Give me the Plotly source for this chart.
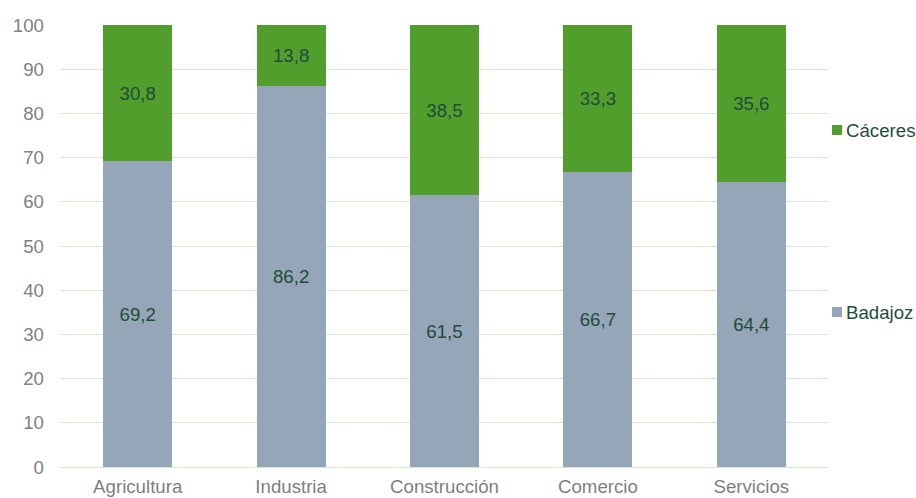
import plotly.graph_objects as go

categories = ["Agricultura", "Industria", "Construcción", "Comercio", "Servicios"]
badajoz = [69.2, 86.2, 61.5, 66.7, 64.4]
caceres = [30.8, 13.8, 38.5, 33.3, 35.6]
y_ticks = [0, 10, 20, 30, 40, 50, 60, 70, 80, 90, 100]

series = [("Badajoz", badajoz, "#94a6b7"), ("Cáceres", caceres, "#519e2c")]

fmt = lambda v: f"{v:.1f}".replace(".", ",")
txt_color = "#1f4d3b"
FONT = "Liberation Sans, Arial"
FS = 18.67

fig = go.Figure()
for name, vals, col in series:
    fig.add_trace(go.Bar(
        x=categories, y=vals, name=name,
        marker=dict(color=col, line=dict(width=0)),
        text=[fmt(v) for v in vals], textposition="inside", insidetextanchor="middle",
        textfont=dict(color=txt_color, size=FS, family=FONT),
        showlegend=False,
    ))

W, H = 916, 498
ml, mr, mt, mb = 61, 88, 25, 31
pw = W - ml - mr
ph = H - mt - mb
# legend drawn manually (pixel positions within the figure)
legend_items = [("Cáceres", "#519e2c", 130), ("Badajoz", "#94a6b7", 312)]
shapes = []
annotations = []
px2x = lambda p: (p - ml) / pw
for name, col, ypix in legend_items:
    yc = 1 - (ypix - mt) / ph
    dy = 5 / ph
    shapes.append(dict(type="rect", xref="paper", yref="paper", x0=px2x(832), x1=px2x(842),
                       y0=yc - dy, y1=yc + dy, fillcolor=col, line=dict(width=0)))
    annotations.append(dict(text=name, xref="paper", yref="paper",
                            x=px2x(844), y=yc,
                            xanchor="left", yanchor="middle", showarrow=False,
                            font=dict(color=txt_color, size=FS, family=FONT)))

fig.update_layout(
    barmode="stack", bargap=0.55,
    width=W, height=H,
    margin=dict(l=ml, r=mr, t=mt, b=mb, autoexpand=False),
    paper_bgcolor="white", plot_bgcolor="white",
    font=dict(family=FONT, size=FS, color="#7f7f7f"),
    showlegend=False,
    shapes=shapes, annotations=annotations,
)
fig.update_xaxes(showgrid=False, showline=False, ticks="", automargin=False,
                 ticklabelstandoff=6, tickfont=dict(color="#7f7f7f", size=FS))
fig.update_yaxes(
    range=[0, 100], tickvals=y_ticks, showgrid=True, gridcolor="#d6e7cf", gridwidth=1,
    zeroline=True, zerolinecolor="#d6e7cf", zerolinewidth=1, automargin=False,
    ticks="", ticklabelstandoff=16, tickfont=dict(color="#7f7f7f", size=FS),
)
fig.write_html(
    "out.html",
    config={"displayModeBar": False},
    post_script="document.body.style.margin='0';document.body.style.overflow='hidden';",
)
